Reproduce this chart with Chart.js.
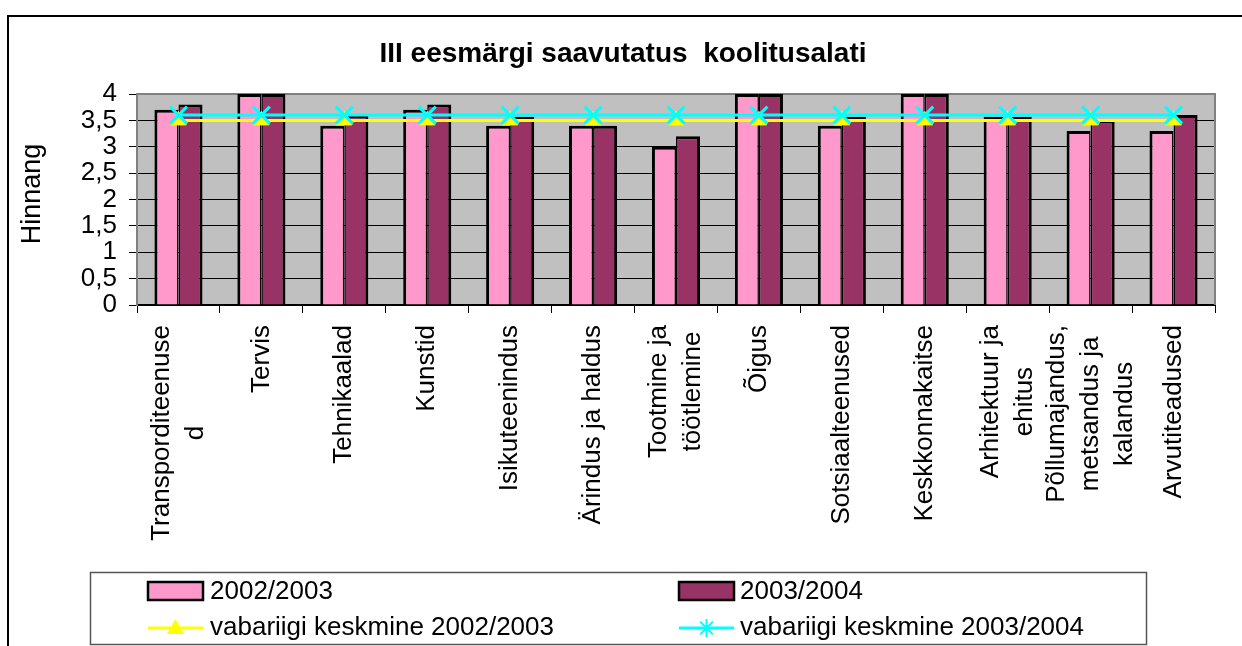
<!DOCTYPE html>
<html>
<head>
<meta charset="utf-8">
<title>III eesmärgi saavutatus koolitusalati</title>
<script src="https://cdn.jsdelivr.net/npm/chart.js@4.4.1/dist/chart.umd.min.js"></script>
<style>
  html, body { margin: 0; padding: 0; background: #fff; }
  canvas { display: block; }
</style>
</head>
<body>
<canvas id="chart" width="1242" height="646"></canvas>
<script>
const FONT = '"Liberation Sans", Arial, sans-serif';

// category names, already split into the lines they are printed on
const categories = [
  ['Transporditeenuse', 'd'],
  ['Tervis'],
  ['Tehnikaalad'],
  ['Kunstid'],
  ['Isikuteenindus'],
  ['Ärindus ja haldus'],
  ['Tootmine ja', 'töötlemine'],
  ['Õigus'],
  ['Sotsiaalteenused'],
  ['Keskkonnakaitse'],
  ['Arhitektuur ja', 'ehitus'],
  ['Põllumajandus,', 'metsandus ja', 'kalandus'],
  ['Arvutiteadused']
];

const ratings0203 = [3.7, 4.0, 3.4, 3.7, 3.4, 3.4, 3.0, 4.0, 3.4, 4.0, 3.57, 3.3, 3.3];
const ratings0304 = [3.8, 4.0, 3.6, 3.8, 3.57, 3.4, 3.2, 4.0, 3.57, 4.0, 3.57, 3.5, 3.6];

// national averages, same value in every field
const national0203 = [3.5, 3.5, 3.5, 3.5, 3.5, 3.5, 3.5, 3.5, 3.5, 3.5, 3.5, 3.5, 3.5];
const national0304 = [3.6, 3.6, 3.6, 3.6, 3.6, 3.6, 3.6, 3.6, 3.6, 3.6, 3.6, 3.6, 3.6];

const seriesNames = ['2002/2003', '2003/2004', 'vabariigi keskmine 2002/2003', 'vabariigi keskmine 2003/2004'];
const chartTitle = 'III eesmärgi saavutatus  koolitusalati';
const yTitle = 'Hinnang';

const PINK = '#ff99cc';
const PLUM = '#993366';
const YELLOW = '#ffff00';
const CYAN = '#00ffff';

function triangle(ctx, x, y, r, color) {
  ctx.fillStyle = color;
  ctx.beginPath();
  ctx.moveTo(x, y - r);
  ctx.lineTo(x + r * 0.866, y + r / 2);
  ctx.lineTo(x - r * 0.866, y + r / 2);
  ctx.closePath();
  ctx.fill();
}

function star(ctx, x, y, r, color) {
  const d = r * 0.707;
  ctx.strokeStyle = color;
  ctx.lineWidth = 2;
  ctx.beginPath();
  ctx.moveTo(x - d, y - d); ctx.lineTo(x + d, y + d);
  ctx.moveTo(x - d, y + d); ctx.lineTo(x + d, y - d);
  ctx.moveTo(x, y - r); ctx.lineTo(x, y + r);
  ctx.stroke();
}

const decorations = {
  id: 'decorations',
  beforeDraw(chart) {
    const { ctx, chartArea: a } = chart;
    ctx.save();
    // outer frame; its right and bottom edges lie off the canvas
    ctx.strokeStyle = '#000';
    ctx.lineWidth = 2;
    ctx.beginPath();
    ctx.moveTo(8, chart.height);
    ctx.lineTo(8, 16);
    ctx.lineTo(chart.width, 16);
    ctx.stroke();
    // plot background
    ctx.fillStyle = '#c0c0c0';
    ctx.fillRect(a.left, a.top, a.right - a.left, a.bottom - a.top);
    ctx.restore();
  },
  beforeDatasetsDraw(chart) {
    const { ctx, chartArea: a } = chart;
    ctx.save();
    ctx.strokeStyle = '#808080';
    ctx.lineWidth = 2;
    ctx.beginPath();
    ctx.moveTo(a.left, a.top);
    ctx.lineTo(a.right, a.top);
    ctx.lineTo(a.right, a.bottom);
    ctx.stroke();
    ctx.restore();
  },
  afterDraw(chart) {
    const { ctx } = chart;
    const xScale = chart.scales.x;
    ctx.save();
    ctx.fillStyle = '#000';

    // title
    ctx.font = `bold 28px ${FONT}`;
    ctx.textAlign = 'center';
    ctx.textBaseline = 'alphabetic';
    ctx.fillText(chartTitle, 623, 62);

    // y axis title
    ctx.font = `27px ${FONT}`;
    ctx.save();
    ctx.translate(40, 194);
    ctx.rotate(-Math.PI / 2);
    ctx.fillText(yTitle, 0, 0);
    ctx.restore();

    // category labels, rotated, lines centred on each other
    ctx.font = `26px ${FONT}`;
    ctx.textBaseline = 'middle';
    categories.forEach((lines, i) => {
      const x = xScale.getPixelForValue(i);
      const widest = Math.max(...lines.map(l => ctx.measureText(l).width));
      const cy = xScale.top + 20 + widest / 2;
      lines.forEach((line, j) => {
        ctx.save();
        ctx.translate(x + (j - (lines.length - 1) / 2) * 34, cy);
        ctx.rotate(-Math.PI / 2);
        ctx.fillText(line, 0, 0);
        ctx.restore();
      });
    });

    // legend box
    ctx.fillStyle = '#fff';
    ctx.fillRect(90, 572, 1056, 72);
    ctx.strokeStyle = '#555';
    ctx.lineWidth = 1.5;
    ctx.strokeRect(90.5, 572.5, 1056, 72);

    const cols = [148, 679];
    const rowY = [591, 628];
    // bar swatches
    [PINK, PLUM].forEach((c, k) => {
      ctx.fillStyle = c;
      ctx.fillRect(cols[k], rowY[0] - 9, 55, 18);
      ctx.strokeStyle = '#000';
      ctx.lineWidth = 2.5;
      ctx.strokeRect(cols[k], rowY[0] - 9, 55, 18);
    });
    // line symbols
    [YELLOW, CYAN].forEach((c, k) => {
      ctx.strokeStyle = c;
      ctx.lineWidth = 3;
      ctx.beginPath();
      ctx.moveTo(cols[k], rowY[1]);
      ctx.lineTo(cols[k] + 55, rowY[1]);
      ctx.stroke();
    });
    triangle(ctx, cols[0] + 27.5, rowY[1] + 1, 10, YELLOW);
    star(ctx, cols[1] + 27.5, rowY[1], 9, CYAN);

    ctx.fillStyle = '#000';
    ctx.font = `26px ${FONT}`;
    ctx.textAlign = 'left';
    ctx.textBaseline = 'middle';
    ctx.fillText(seriesNames[0], cols[0] + 62, rowY[0] + 1);
    ctx.fillText(seriesNames[1], cols[1] + 61, rowY[0] + 1);
    ctx.fillText(seriesNames[2], cols[0] + 62, rowY[1]);
    ctx.fillText(seriesNames[3], cols[1] + 61, rowY[1]);

    ctx.restore();
  }
};

new Chart(document.getElementById('chart'), {
  type: 'bar',
  data: {
    labels: categories.map(l => l.join(' ')),
    datasets: [
      {
        type: 'line',
        label: seriesNames[3],
        data: national0304,
        order: 0,
        borderColor: CYAN,
        borderWidth: 3,
        pointStyle: 'crossRot',
        pointRadius: 12,
        pointBorderColor: CYAN,
        pointBorderWidth: 3
      },
      {
        type: 'line',
        label: seriesNames[2],
        data: national0203,
        order: 1,
        borderColor: YELLOW,
        borderWidth: 3,
        pointStyle: 'triangle',
        pointRadius: 9,
        pointBackgroundColor: YELLOW,
        pointBorderColor: YELLOW,
        pointBorderWidth: 1
      },
      {
        label: seriesNames[0],
        data: ratings0203,
        order: 2,
        backgroundColor: PINK,
        borderColor: '#000',
        borderWidth: { top: 3, left: 3, right: 1.5, bottom: 0 },
        borderSkipped: false,
        categoryPercentage: 0.58,
        barPercentage: 1.0
      },
      {
        label: seriesNames[1],
        data: ratings0304,
        order: 3,
        backgroundColor: PLUM,
        borderColor: '#000',
        borderWidth: { top: 3, left: 1.5, right: 3, bottom: 0 },
        borderSkipped: false,
        categoryPercentage: 0.58,
        barPercentage: 1.0
      }
    ]
  },
  options: {
    responsive: false,
    animation: false,
    events: [],
    layout: { padding: { top: 94, right: 27, bottom: 0, left: 0 } },
    plugins: {
      legend: { display: false },
      tooltip: { enabled: false }
    },
    scales: {
      x: {
        grid: { offset: true, drawOnChartArea: false, color: '#000', tickLength: 8 },
        border: { color: '#000', width: 2 },
        ticks: { display: false },
        afterFit(scale) { scale.height = 341; }
      },
      y: {
        min: 0,
        max: 4,
        grid: { color: '#000', lineWidth: 1, tickLength: 8 },
        border: { color: '#808080', width: 2 },
        ticks: {
          stepSize: 0.5,
          autoSkip: false,
          padding: 12,
          color: '#000',
          font: { family: FONT, size: 26 },
          callback: v => String(v).replace('.', ',')
        },
        afterFit(scale) { scale.width = 137; }
      }
    }
  },
  plugins: [decorations]
});
</script>
</body>
</html>
